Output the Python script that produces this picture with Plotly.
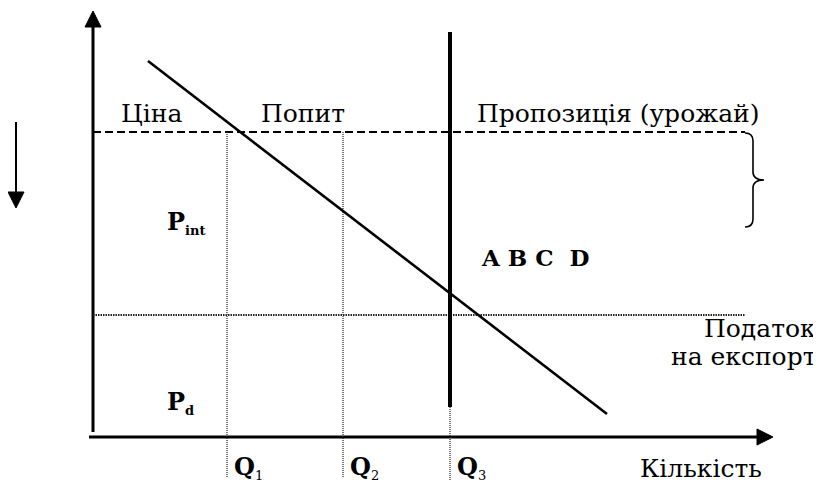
import plotly.graph_objects as go

# ---- diagram values (x: quantity units, y: price units; origin at the axes corner)
world_price = 305          # dashed line (Ціна)
tax_price = 122            # dotted line (Податок на експорт)
q_values = [134, 250, 357] # Q1, Q2, Q3
q_labels = ["1", "2", "3"]
demand_x = [55, 514]
demand_y = [376, 23]
supply_x = 357
supply_y = [405, 30]
axis_x_end = 680
axis_y_end = 426
price_line_end = 652
q_line_bottom = -41
shift_arrow_x = -77
shift_arrow_y = [315, 229]

BLACK = "black"
SERIF = "'DejaVu Serif', 'Liberation Serif', serif"

fig = go.Figure()

def line(x, y, width, dash="solid", color=BLACK):
    fig.add_trace(go.Scatter(x=x, y=y, mode="lines", hoverinfo="skip",
                             line=dict(color=color, width=width, dash=dash)))

def tri(x, y):
    fig.add_trace(go.Scatter(x=x, y=y, mode="lines", fill="toself", fillcolor=BLACK,
                             hoverinfo="skip", line=dict(color=BLACK, width=1)))

head = 16
half = 8
# vertical axis with arrow
line([0, 0], [5, axis_y_end - head], 3)
tri([-half, half, 0, -half], [axis_y_end - head, axis_y_end - head, axis_y_end, axis_y_end - head])
# horizontal axis with arrow
line([-4, axis_x_end - head], [0, 0], 3)
tri([axis_x_end - head, axis_x_end - head, axis_x_end, axis_x_end - head], [-half, half, 0, -half])
# left downward arrow
line([shift_arrow_x, shift_arrow_x], [shift_arrow_y[0], shift_arrow_y[1] + head], 2)
tri([shift_arrow_x - half, shift_arrow_x + half, shift_arrow_x, shift_arrow_x - half],
    [shift_arrow_y[1] + head, shift_arrow_y[1] + head, shift_arrow_y[1], shift_arrow_y[1] + head])

# price lines
line([0, price_line_end], [world_price, world_price], 2, dash="8px,4px")
line([0, price_line_end], [tax_price, tax_price], 1.8, dash="1.5px,1px", color="#222")

# Q verticals
line([q_values[0], q_values[0]], [world_price, q_line_bottom], 1.2, dash="1px,1px", color="#222")
line([q_values[1], q_values[1]], [world_price, q_line_bottom], 1.2, dash="1px,1px", color="#222")
line([q_values[2], q_values[2]], [supply_y[1], q_line_bottom - 2], 1.2, dash="1px,1px", color="#222")

# demand and supply
line(demand_x, demand_y, 2.6)
line([supply_x, supply_x], supply_y, 4)

# brace
bx0, bx1, btip = price_line_end, price_line_end + 8, price_line_end + 19
by_top, by_bot = world_price - 1, 210
by_mid = (by_top + by_bot) / 2
brace = (f"M {bx0},{by_top} Q {bx1},{by_top} {bx1},{by_top-8} L {bx1},{by_mid+8} "
         f"Q {bx1},{by_mid} {btip},{by_mid} Q {bx1},{by_mid} {bx1},{by_mid-8} "
         f"L {bx1},{by_bot+8} Q {bx1},{by_bot} {bx0},{by_bot}")
fig.add_shape(type="path", path=brace, xref="x", yref="y", line=dict(color=BLACK, width=1.6))

def text(x, y, t, xanchor="center", size=25, bold=False):
    fig.add_annotation(x=x, y=y, text=(f"<b>{t}</b>" if bold else t), showarrow=False,
                       xanchor=xanchor, yanchor="middle",
                       font=dict(family=SERIF, size=size, color=BLACK))

text(58, 324, "Ціна")
text(210, 324, "Попит")
text(525, 324, "Пропозиція (урожай)")
text(72, 215, "<b>P</b><sub><span style='font-size:13px'><b>int</b></span></sub>", xanchor="left", size=24)
text(72, 35, "<b>P</b><sub><span style='font-size:13px'><b>d</b></span></sub>", xanchor="left", size=24)
text(386, 180, "A B C&nbsp; D", xanchor="left", size=23, bold=True)
text(725, 109, "Податок", xanchor="right")
text(725, 81, "на експорт", xanchor="right")
for qx, ql in zip(q_values, q_labels):
    text(qx + 5, -30, f"<b>Q</b><sub><span style='font-size:13px'>{ql}</span></sub>", xanchor="left", size=24)
text(671, -31, "Кількість", xanchor="right")

# page is drawn 8px in from the window corner, so the ranges are offset by 8 units
fig.update_layout(
    width=821, height=490, margin=dict(l=0, r=0, t=0, b=0),
    plot_bgcolor="white", paper_bgcolor="white", showlegend=False,
    xaxis=dict(range=[-85, 736], visible=False, fixedrange=True),
    yaxis=dict(range=[-61, 429], visible=False, fixedrange=True),
)
fig.write_html("out.html")
